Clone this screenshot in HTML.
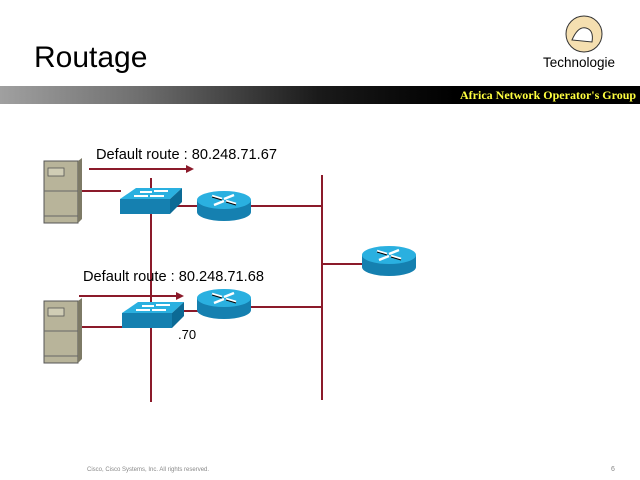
<!DOCTYPE html>
<html><head><meta charset="utf-8"><style>
html,body{margin:0;padding:0;background:#fff;width:640px;height:480px;overflow:hidden}
svg{display:block}
</style></head><body>
<svg width="640" height="480" viewBox="0 0 640 480" xmlns="http://www.w3.org/2000/svg" font-family="Liberation Sans, sans-serif">
<defs>
<linearGradient id="bar" x1="0" x2="1" y1="0" y2="0">
<stop offset="0" stop-color="#a0a0a0"/><stop offset="0.3" stop-color="#707070"/><stop offset="0.7" stop-color="#1a1a1a"/><stop offset="1" stop-color="#000"/>
</linearGradient>
<g id="router">
<path d="M-27,0 v12 a27,9 0 0 0 54,0 v-12 z" fill="#1580b0"/>
<ellipse cx="0" cy="0" rx="27" ry="9" fill="#2ab0e0"/>
<path d="M-12,-4 l10,3 M12,4 l-10,-3 M-10,5 l10,-4 M10,-5 l-10,4" stroke="#fff" stroke-width="2.5"/>
<path d="M-12,-3 l10,3 M12,5 l-10,-3" stroke="#000" stroke-width="1"/>
</g>
<g id="switch">
<polygon points="0,11 16,0 62,0 50,11" fill="#2ab0e0"/>
<rect x="0" y="11" width="50" height="15" fill="#1580b0"/>
<polygon points="50,11 62,0 62,14 50,26" fill="#0c6a95"/>
<path d="M14,8 h14 M34,3 h14 M20,4 h12 M30,8 h14" stroke="#fff" stroke-width="2"/>
</g>
<g id="server">
<rect x="0" y="0" width="34" height="62" fill="#b8b49a" stroke="#555" stroke-width="1"/>
<polygon points="34,0 38,-3 38,58 34,62" fill="#7d7a66"/>
<rect x="4" y="7" width="16" height="8" fill="#d0cdb5" stroke="#555" stroke-width="0.8"/>
<line x1="0" y1="30" x2="34" y2="30" stroke="#666"/>
<line x1="0" y1="55" x2="34" y2="55" stroke="#666"/>
</g>
</defs>
<text x="34" y="67" font-size="30" fill="#000">Routage</text>
<circle cx="584" cy="34" r="18" fill="#f5dfb0" stroke="#333" stroke-width="1"/>
<path d="M572,40 q6,-14 14,-12 q8,2 6,14 z" fill="#fff" stroke="#333"/>
<text x="543" y="67" font-size="13.5" fill="#000">Technologie</text>
<rect x="0" y="86" width="455" height="18" fill="url(#bar)"/>
<rect x="455" y="86" width="185" height="18" fill="#000"/>
<text x="460" y="99" font-size="12" font-family="Liberation Serif, serif" font-weight="bold" fill="#ffff40">Africa Network Operator's Group</text>
<g stroke="#8b1a2a" stroke-width="2" fill="none">
<line x1="151" y1="178" x2="151" y2="402"/>
<line x1="322" y1="175" x2="322" y2="400"/>
<line x1="80" y1="191" x2="121" y2="191"/>
<line x1="80" y1="327" x2="123" y2="327"/>
<line x1="175" y1="206" x2="200" y2="206"/>
<line x1="178" y1="311" x2="200" y2="311"/>
<line x1="250" y1="206" x2="322" y2="206"/>
<line x1="250" y1="307" x2="322" y2="307"/>
<line x1="322" y1="264" x2="364" y2="264"/>
<line x1="89" y1="169" x2="187" y2="169"/>
<line x1="79" y1="296" x2="177" y2="296"/>
</g>
<polygon points="186,165 194,169 186,173" fill="#8b1a2a"/>
<polygon points="176,292 184,296 176,300" fill="#8b1a2a"/>
<use href="#server" x="44" y="161"/>
<use href="#server" x="44" y="301"/>
<use href="#switch" x="120" y="188"/>
<use href="#switch" x="122" y="302"/>
<use href="#router" x="224" y="200"/>
<use href="#router" x="224" y="298"/>
<use href="#router" x="389" y="255"/>
<text x="96" y="159" font-size="14.6" fill="#000">Default route : 80.248.71.67</text>
<text x="83" y="281" font-size="14.6" fill="#000">Default route : 80.248.71.68</text>
<text x="178" y="339" font-size="13" fill="#000">.70</text>
<text x="87" y="471" font-size="6" fill="#888">Cisco, Cisco Systems, Inc. All rights reserved.</text>
<text x="611" y="471" font-size="7" fill="#888">6</text>
</svg>
</body></html>
